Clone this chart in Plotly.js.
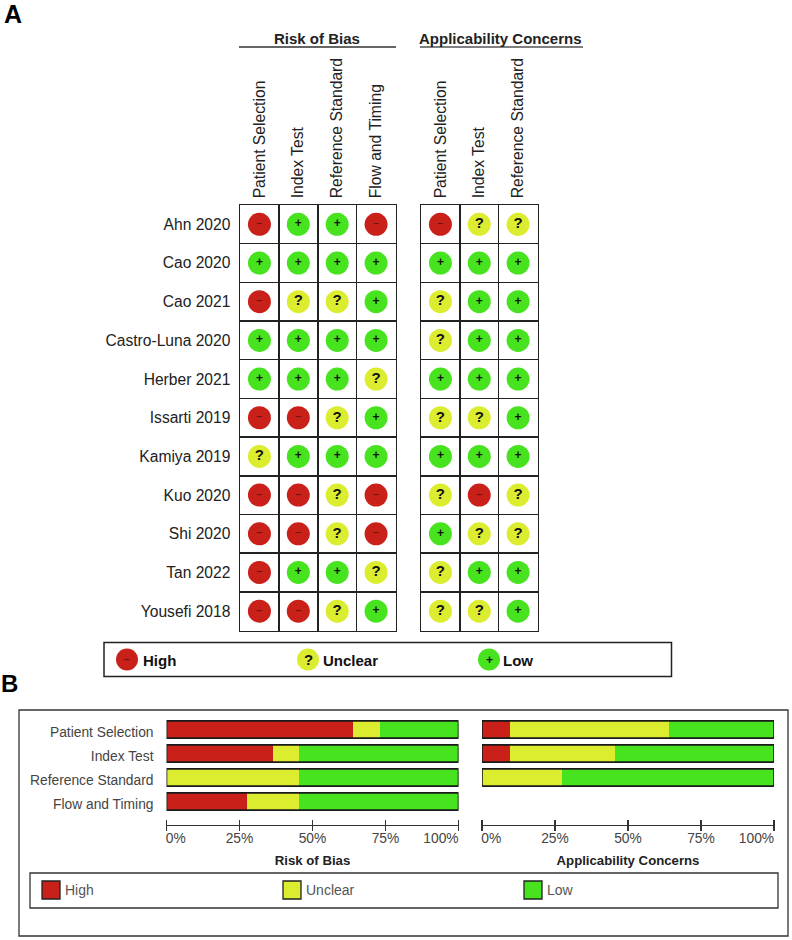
<!DOCTYPE html>
<html lang="en">
<head>
<meta charset="UTF-8">
<title>Risk of bias summary</title>
<script src="https://cdn.plot.ly/plotly-3.0.1.min.js"></script>
<style>
  html, body { margin: 0; padding: 0; background: #fff; }
  #chart { width: 792px; height: 940px; }
</style>
</head>
<body>
<div id="chart"></div>
<script>
const studies = ['Ahn 2020', 'Cao 2020', 'Cao 2021', 'Castro-Luna 2020', 'Herber 2021', 'Issarti 2019',
                 'Kamiya 2019', 'Kuo 2020', 'Shi 2020', 'Tan 2022', 'Yousefi 2018'];
const robDomains = ['Patient Selection', 'Index Test', 'Reference Standard', 'Flow and Timing'];
const acDomains = ['Patient Selection', 'Index Test', 'Reference Standard'];

// one row per study, H = high, U = unclear, L = low
const robRatings = [
  ['H', 'L', 'L', 'H'], ['L', 'L', 'L', 'L'], ['H', 'U', 'U', 'L'], ['L', 'L', 'L', 'L'],
  ['L', 'L', 'L', 'U'], ['H', 'H', 'U', 'L'], ['U', 'L', 'L', 'L'], ['H', 'H', 'U', 'H'],
  ['H', 'H', 'U', 'H'], ['H', 'L', 'L', 'U'], ['H', 'H', 'U', 'L']
];
const acRatings = [
  ['H', 'U', 'U'], ['L', 'L', 'L'], ['U', 'L', 'L'], ['U', 'L', 'L'],
  ['L', 'L', 'L'], ['U', 'U', 'L'], ['L', 'L', 'L'], ['U', 'H', 'U'],
  ['L', 'U', 'U'], ['U', 'L', 'L'], ['U', 'U', 'L']
];

// percent of studies
const robHigh = [64, 36.5, 0, 27.5];
const robUnclear = [9, 9, 45.5, 18];
const robLow = [27, 54.5, 54.5, 54.5];
const acHigh = [9.5, 9.5, 0];
const acUnclear = [54.5, 36, 27.5];
const acLow = [36, 54.5, 72.5];

const pctTicks = [0, 25, 50, 75, 100];
const pctLabels = ['0%', '25%', '50%', '75%', '100%'];
// the end labels sit inside the axis ends in the original
const pctLabelSpots = [3.2, 25, 50, 75, 94];

const RED = '#c9201a', YELLOW = '#dcec2e', GREEN = '#46e31e';
const ratingStyle = {
  H: { color: RED, sign: '\u2212', name: 'High', signColor: '#6e1410', signSize: 10 },
  U: { color: YELLOW, sign: '?', name: 'Unclear', signColor: '#111', signSize: 15 },
  L: { color: GREEN, sign: '+', name: 'Low', signColor: '#111', signSize: 12 }
};
const INK = '#222';
const FONT = 'Liberation Sans, Arial, sans-serif';

const W = 792, H = 940;
const px = x => x / W;
const py = y => 1 - y / H;

const traces = [];

function addDots(ratings, domains, xa, ya) {
  ['H', 'U', 'L'].forEach(code => {
    const s = ratingStyle[code];
    const x = [], y = [], text = [];
    ratings.forEach((row, r) => row.forEach((val, c) => {
      if (val === code) { x.push(domains[c]); y.push(studies[r]); text.push(s.sign); }
    }));
    traces.push({
      type: 'scatter', mode: 'markers+text', x, y, text, xaxis: xa, yaxis: ya,
      marker: { size: 23, color: s.color, line: { width: 0 } },
      textposition: 'middle center',
      textfont: { family: FONT, size: s.signSize, color: s.signColor, weight: 700 },
      hoverinfo: 'skip', showlegend: false
    });
  });
}
addDots(robRatings, robDomains, 'x', 'y');
addDots(acRatings, acDomains, 'x2', 'y2');

function addBars(domains, high, unclear, low, xa, ya) {
  [[high, RED, 'High'], [unclear, YELLOW, 'Unclear'], [low, GREEN, 'Low']].forEach(s => {
    traces.push({
      type: 'bar', orientation: 'h', name: s[2], x: s[0], y: domains, xaxis: xa, yaxis: ya,
      marker: { color: s[1], line: { width: 0 } }, showlegend: false
    });
  });
}
addBars(robDomains, robHigh, robUnclear, robLow, 'x3', 'y3');
addBars(acDomains, acHigh, acUnclear, acLow, 'x4', 'y4');

// tick marks live on their own axis, they straddle the axis line
traces.push({ type: 'scatter', mode: 'none', x: [0], y: [robDomains[0]], xaxis: 'x5', yaxis: 'y3', hoverinfo: 'skip', showlegend: false });
traces.push({ type: 'scatter', mode: 'none', x: [0], y: [robDomains[0]], xaxis: 'x6', yaxis: 'y4', hoverinfo: 'skip', showlegend: false });

function gridX(domains, x0, x1, anchor) {
  return {
    type: 'category', categoryorder: 'array', categoryarray: domains, range: [-0.5, domains.length - 0.5],
    domain: [px(x0), px(x1)], anchor, side: 'top', tickson: 'boundaries', ticks: '', tickangle: -90,
    showgrid: true, gridcolor: INK, gridwidth: 1.5, showline: true, linecolor: INK, linewidth: 1.5, mirror: true,
    zeroline: false, tickfont: { family: FONT, size: 15.7, color: INK }, ticklabelstandoff: 2, ticklabelshift: -1.5,
    fixedrange: true
  };
}
function gridY(x, labels) {
  return {
    type: 'category', categoryorder: 'array', categoryarray: studies, range: [studies.length - 0.5, -0.5],
    domain: [py(630.5), py(205)], anchor: x, tickson: 'boundaries', ticks: '', showticklabels: labels,
    showgrid: true, gridcolor: INK, gridwidth: 1.5, showline: true, linecolor: INK, linewidth: 1.5, mirror: true,
    zeroline: false, tickfont: { family: FONT, size: 15.6, color: INK }, ticklabelstandoff: 5, fixedrange: true
  };
}
function barX(x0, x1, title) {
  return {
    range: [0, 100], domain: [px(x0), px(x1)], anchor: 'free', position: py(825),
    tickmode: 'array', tickvals: pctLabelSpots, ticktext: pctLabels, ticks: '',
    showline: true, linecolor: '#333', linewidth: 1.3, showgrid: false, zeroline: false,
    tickfont: { family: FONT, size: 13.8, color: '#444' },
    title: { text: title, standoff: 11, font: { family: FONT, size: 13.2, color: '#222', weight: 700 } },
    fixedrange: true
  };
}
function barTicks(x0, x1, over) {
  return {
    range: [0, 100], domain: [px(x0), px(x1)], overlaying: over, anchor: 'free', position: py(830.5), side: 'top',
    tickmode: 'array', tickvals: pctTicks, ticks: 'outside', ticklen: 11, tickwidth: 1.3, tickcolor: '#333',
    showticklabels: false, showline: false, showgrid: false, zeroline: false, fixedrange: true
  };
}
function barY(x, labels) {
  return {
    type: 'category', categoryorder: 'array', categoryarray: robDomains, range: [3.5, -0.5],
    domain: [py(813.5), py(717.5)], anchor: x, showticklabels: labels, ticks: '', ticklabelstandoff: 12,
    ticklabelshift: -3, showgrid: false, showline: false, zeroline: false,
    tickfont: { family: FONT, size: 13.8, color: '#444' }, fixedrange: true
  };
}

const shapes = [];
const annotations = [];

function box(x0, y0, x1, y1, fill, color, w) {
  shapes.push({
    type: 'rect', xref: 'paper', yref: 'paper', x0: px(x0), x1: px(x1), y0: py(y0), y1: py(y1),
    fillcolor: fill || 'rgba(0,0,0,0)', line: { color: color || INK, width: w === undefined ? 1.5 : w }, layer: 'below'
  });
}
function label(x, y, text, size, opts) {
  opts = opts || {};
  annotations.push({
    xref: 'paper', yref: 'paper', x: px(x), y: py(y), text, showarrow: false,
    xanchor: opts.anchor || 'left', yanchor: 'middle', borderpad: 0,
    font: { family: FONT, size, color: opts.color || '#111', weight: opts.bold ? 700 : 400 }
  });
}

// outline round each stacked bar
function barOutlines(domains, xa, ya) {
  domains.forEach((d, i) => shapes.push({
    type: 'rect', xref: xa, yref: ya, x0: 0, x1: 100, y0: i - 0.36, y1: i + 0.36,
    line: { color: '#1a1a1a', width: 1.6 }, layer: 'above'
  }));
}
barOutlines(robDomains, 'x3', 'y3');
barOutlines(acDomains, 'x4', 'y4');

// panel letters
label(3, 14, 'A', 25, { bold: true, color: '#000' });
label(0, 683, 'B', 24, { bold: true, color: '#000' });

// group headers over the grids
label(317, 38, 'Risk of Bias', 15, { bold: true, anchor: 'center', color: '#222' });
label(500.5, 38, 'Applicability Concerns', 15, { bold: true, anchor: 'center', color: '#222' });
shapes.push({ type: 'line', xref: 'paper', yref: 'paper', x0: px(239), x1: px(396), y0: py(47), y1: py(47), line: { color: '#333', width: 1.3 } });
shapes.push({ type: 'line', xref: 'paper', yref: 'paper', x0: px(420), x1: px(583), y0: py(47), y1: py(47), line: { color: '#555', width: 1.5 } });

// panel A key
box(104, 642.5, 671.5, 676.5);
[['H', 127, 142], ['U', 308, 322], ['L', 489, 502]].forEach(k => {
  const s = ratingStyle[k[0]];
  shapes.push({
    type: 'circle', xref: 'paper', yref: 'paper', x0: px(k[1] - 11), x1: px(k[1] + 11), y0: py(659.5 + 11), y1: py(659.5 - 11),
    fillcolor: s.color, line: { width: 0 }
  });
  label(k[1], 659.5, s.sign, s.signSize, { bold: true, anchor: 'center', color: s.signColor });
  label(k[2], 660.5, s.name, 15, { bold: true });
});

// panel B frame and key
box(19, 710, 788, 936, null, '#333', 1.3);
box(30, 873, 778, 908, null, '#333', 1.3);
[['H', 42], ['U', 283], ['L', 524]].forEach(k => {
  const s = ratingStyle[k[0]];
  box(k[1], 881, k[1] + 18, 899, s.color, '#222', 1.3);
  label(k[1] + 22, 890, s.name, 14, { color: '#555' });
});

const layout = {
  width: W, height: H, margin: { l: 0, r: 0, t: 0, b: 0 }, autosize: false,
  paper_bgcolor: '#fff', plot_bgcolor: 'rgba(0,0,0,0)', showlegend: false,
  barmode: 'stack', bargap: 0.28, hovermode: false,
  xaxis: gridX(robDomains, 240, 395.5, 'y'),
  yaxis: gridY('x', true),
  xaxis2: gridX(acDomains, 421, 537.5, 'y2'),
  yaxis2: gridY('x2', false),
  xaxis3: barX(166.5, 458.5, 'Risk of Bias'),
  yaxis3: barY('x3', true),
  xaxis4: barX(482, 774, 'Applicability Concerns'),
  yaxis4: barY('x4', false),
  xaxis5: barTicks(166.5, 458.5, 'x3'),
  xaxis6: barTicks(482, 774, 'x4'),
  shapes, annotations
};

Plotly.newPlot('chart', traces, layout, { displayModeBar: false, staticPlot: true });
</script>
</body>
</html>
